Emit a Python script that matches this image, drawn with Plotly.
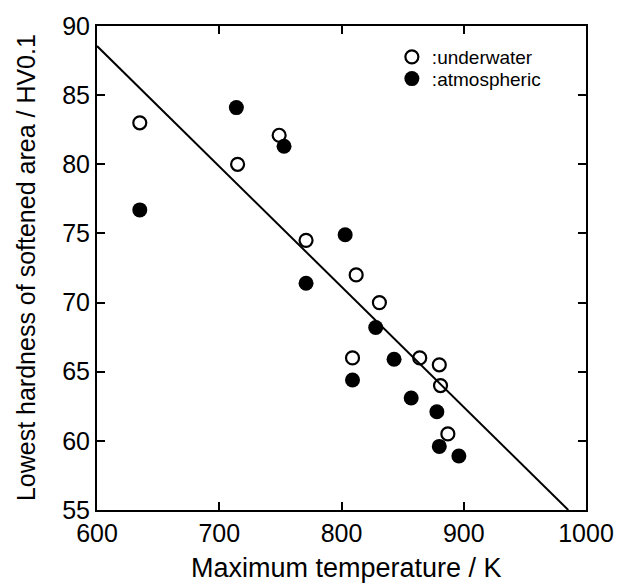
import plotly.graph_objects as go

# Underwater (open circles)
uw_temp = [635, 715, 749, 771, 812, 831, 809, 864, 880, 881, 887]
uw_hard = [83.0, 80.0, 82.1, 74.5, 72.0, 70.0, 66.0, 66.0, 65.5, 64.0, 60.5]

# Atmospheric (filled circles)
at_temp = [635, 714, 753, 771, 803, 828, 843, 809, 857, 878, 880, 896]
at_hard = [76.7, 84.1, 81.3, 71.4, 74.9, 68.2, 65.9, 64.4, 63.1, 62.1, 59.6, 58.9]

# Regression line endpoints
fit_temp = [600, 985.5]
fit_hard = [88.55, 55.0]

x_ticks = [600, 700, 800, 900, 1000]
y_ticks = [55, 60, 65, 70, 75, 80, 85, 90]

FONT = "Liberation Sans, Arial, Helvetica, sans-serif"

fig = go.Figure()
fig.add_trace(go.Scatter(x=fit_temp, y=fit_hard, mode="lines",
                         line=dict(color="black", width=2), showlegend=False,
                         hoverinfo="skip"))
fig.add_trace(go.Scatter(x=uw_temp, y=uw_hard, mode="markers", name=":underwater",
                         legend="legend",
                         marker=dict(symbol="circle-open", size=13, color="black",
                                     line=dict(width=2.2, color="black"))))
fig.add_trace(go.Scatter(x=at_temp, y=at_hard, mode="markers", name=":atmospheric",
                         legend="legend2",
                         marker=dict(symbol="circle", size=15, color="black")))

axis_common = dict(showline=True, linecolor="black", linewidth=2, mirror="ticks",
                   ticks="inside", ticklen=8, tickwidth=1.5, tickcolor="black",
                   showgrid=False, zeroline=False,
                   tickfont=dict(family=FONT, size=25, color="black"))

fig.update_xaxes(range=[600, 1000], tickvals=x_ticks, ticktext=[str(v) for v in x_ticks],
                 **axis_common)
fig.update_yaxes(range=[55, 90], tickvals=y_ticks, ticktext=[str(v) for v in y_ticks],
                 **axis_common)

legend_common = dict(xanchor="left", yanchor="middle", bgcolor="rgba(0,0,0,0)",
                     borderwidth=0, itemwidth=30,
                     font=dict(family=FONT, size=19, color="black"))

fig.update_layout(
    width=626, height=584,
    margin=dict(l=97, r=33, t=17, b=74),
    plot_bgcolor="white", paper_bgcolor="white",
    showlegend=True,
    legend=dict(x=0.603, y=0.936, **legend_common),
    legend2=dict(x=0.603, y=0.891, **legend_common),
    annotations=[
        dict(text="Maximum temperature / K", xref="paper", yref="paper",
             x=0.51, y=-0.1196, xanchor="center", yanchor="middle", showarrow=False,
             font=dict(family=FONT, size=27, color="black")),
        dict(text="Lowest hardness of softened area / HV0.1", xref="paper", yref="paper",
             x=-0.145, y=0.5, xanchor="center", yanchor="middle", showarrow=False,
             textangle=-90, font=dict(family=FONT, size=25, color="black")),
    ],
)

fig.write_html("out.html")
